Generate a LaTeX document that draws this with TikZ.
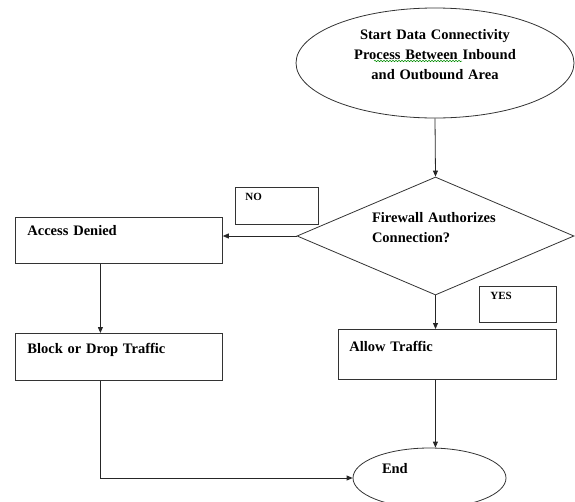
\documentclass[tikz,border=0pt]{standalone}
\usepackage{fontspec}
\setmainfont{Liberation Serif}
\usetikzlibrary{arrows.meta,shapes.geometric,decorations.pathmorphing}
\begin{document}
\begin{tikzpicture}[x=1pt,y=-1pt,
  line width=0.8pt,
  every node/.style={draw=black!80, line width=0.8pt, inner sep=0pt, font=\bfseries\fontsize{14.5}{20}\selectfont},
  arr/.style={draw=black!85, line width=0.8pt, -{Triangle[length=6pt,width=5pt]}},
  boxnode/.style={rectangle, anchor=north west, align=left, inner ysep=0pt},
  smallbox/.style={boxnode, font=\bfseries\fontsize{11}{13}\selectfont},
]
\useasboundingbox (0,0) rectangle (575,501);
\clip (0,0) rectangle (575,501);

% start
\node[ellipse, minimum width=278pt, minimum height=110pt, text width=172pt, align=center,
      text height=10pt, text depth=58pt] (start) at (435,63)
  {Start Data Connectivity\\Process Between Inbound\\and Outbound Area};
\draw[green!55!black, line width=0.5pt, decorate, decoration={snake, amplitude=0.7pt, segment length=3pt}]
  ([xshift=-61pt,yshift=2pt]start.center) -- ([xshift=27pt,yshift=2pt]start.center);

% decision
\node[diamond, aspect=2.35, minimum width=277pt, minimum height=118pt, text width=127pt, align=left,
      text height=10pt, text depth=38pt] (dec) at (435.5,236)
  {Firewall Authorizes\\Connection?};

% label boxes
\node[smallbox, inner xsep=10pt, text width=63pt, text height=13pt, text depth=24pt] (no) at (235,187) {NO};
\node[smallbox, inner xsep=11pt, text width=55pt, text height=13pt, text depth=23pt] (yes) at (479,286) {YES};

% process boxes
\node[boxnode, inner xsep=12pt, text width=183pt, text height=18pt, text depth=28pt] (deny) at (15,217) {Access Denied};
\node[boxnode, inner xsep=12pt, text width=183pt, text height=20pt, text depth=27pt] (block) at (15,333) {Block or Drop Traffic};
\node[boxnode, inner xsep=11pt, text width=196pt, text height=22pt, text depth=28pt] (allow) at (338,329) {Allow Traffic};

% end
\node[ellipse, minimum width=153pt, minimum height=60pt, text width=95pt, align=left,
      text height=10pt, text depth=20pt] (end) at (429.5,478) {End};

% connectors
\draw[arr] (start.south) -- (dec.north);
\draw[arr] (dec.west) -- (dec.west -| deny.east);
\draw[arr] ([xshift=-18.5pt]deny.south) -- ([xshift=-18.5pt]block.north);
\draw[arr] (dec.south) -- (dec.south |- allow.north);
\draw[arr] ([xshift=-12pt]allow.south) -- ([xshift=-12pt]allow.south |- end.north);
\draw[arr] ([xshift=-18.5pt]block.south) |- (end.west);
\end{tikzpicture}
\end{document}
